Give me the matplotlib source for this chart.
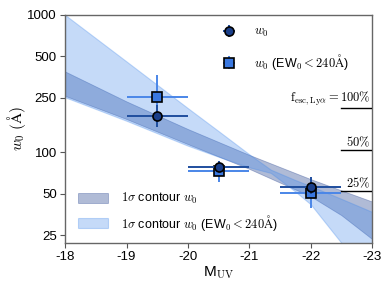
import matplotlib
matplotlib.use("Agg")
import matplotlib.pyplot as plt
import numpy as np

plt.rcParams['mathtext.fontset'] = 'cm'
plt.rcParams['font.family'] = ['Liberation Sans', 'DejaVu Sans']
plt.rcParams['axes.unicode_minus'] = False

# ---- data ----
muv = [-19.5, -20.5, -22.0]
w0_all = [183, 78, 56]
w0_all_lo = [31, 6, 6]
w0_all_hi = [37, 8, 10]
w0_cut = [253, 73, 51]
w0_cut_lo = [100, 12, 11.5]
w0_cut_hi = [110, 10, 10]
muv_err = [0.5, 0.5, 0.5]

band_all_m = [-18, -19, -20, -21, -22, -22.5, -23]
band_all_up = [388, 235, 148, 96, 64, 53, 44]
band_all_lo = [258, 175, 115, 76, 48, 35, 23.5]

band_cut_m = [-18, -19, -20, -20.5, -21, -21.35, -21.75, -22, -22.5, -23]
band_cut_up = [1000, 459, 210, 143, 97, 75, 63, 57, 46, 37]
band_cut_lo = [252, 170, 112, 93, 78, 71, 52, 42, 22, 13]

fesc_labels = [r"$\mathrm{f_{esc,Ly\alpha}}=100\%$", r"$50\%$", r"$25\%$"]
fesc_vals = [210, 105, 52.5]

xticks = [-18, -19, -20, -21, -22, -23]
yticks = [25, 50, 100, 250, 500, 1000]

# ---- plot ----
fig = plt.figure(figsize=(3.9, 2.93), dpi=100)
ax = fig.add_axes([0.167, 0.171, 0.787, 0.778])

dark_col = (0.12, 0.24, 0.55)
light_col = (0.25, 0.53, 0.92)
f1 = ax.fill_between(band_all_m, band_all_lo, band_all_up, color=dark_col, alpha=0.35,
                     lw=0.6, zorder=1, label=r"$1\sigma$ contour $w_0$")
f2 = ax.fill_between(band_cut_m, band_cut_lo, band_cut_up, color=light_col, alpha=0.3,
                     lw=0.8, zorder=2, label=r"$1\sigma$ contour $w_0$ (EW$_0<240\mathrm{\AA}$)")

e1 = ax.errorbar(muv, w0_all, xerr=muv_err, yerr=[w0_all_lo, w0_all_hi], fmt='o',
                 color='#1f4e9e', mfc='#1a3f8a', mec='black', mew=1.2, ms=6.5,
                 elinewidth=1.4, capsize=0, zorder=4, label=r"$w_0$")
e2 = ax.errorbar(muv, w0_cut, xerr=muv_err, yerr=[w0_cut_lo, w0_cut_hi], fmt='s',
                 color='#4a86e8', mfc='#3a78e0', mec='black', mew=1.2, ms=6.5,
                 elinewidth=1.4, capsize=0, zorder=3, label=r"$w_0$ (EW$_0<240\mathrm{\AA}$)")

for lab, v in zip(fesc_labels, fesc_vals):
    ax.plot([-22.5, -23], [v, v], color='black', lw=1.0, zorder=5)
    ax.text(-22.97, v * 1.01, lab, ha='right', va='bottom', fontsize=9, zorder=5)

ax.set_yscale('log')
ax.set_xlim(-18, -23)
ax.set_ylim(22, 1000)
ax.set_yticks(yticks)
ax.set_yticklabels([str(t) for t in yticks])
ax.yaxis.set_minor_locator(matplotlib.ticker.NullLocator())
ax.set_xticks(xticks)
ax.set_xticklabels([str(t) for t in xticks])
ax.tick_params(labelsize=9.5, length=3.5, width=0.8, color='#555555', pad=2.5)
for s in ax.spines.values():
    s.set_color('#666666')
    s.set_linewidth(1.0)

ax.set_xlabel(r"M$_{\mathrm{UV}}$", fontsize=11, labelpad=1)
ax.set_ylabel(r"$w_0\ (\mathrm{\AA})$", fontsize=11)
ax.yaxis.set_label_coords(-0.122, 0.5)

leg1 = ax.legend(handles=[e1, e2], loc='upper left', bbox_to_anchor=(0.51, 0.95),
                 frameon=False, fontsize=9, handlelength=1.2, handletextpad=1.4,
                 labelspacing=1.0, borderpad=0, borderaxespad=0)
ax.add_artist(leg1)
ax.legend(handles=[f1, f2], loc='lower left', bbox_to_anchor=(0.042, 0.045),
          frameon=False, fontsize=9, handlelength=2.4, handleheight=0.85,
          handletextpad=1.0, labelspacing=0.5, borderpad=0, borderaxespad=0)

fig.savefig("out.png", dpi=100)
